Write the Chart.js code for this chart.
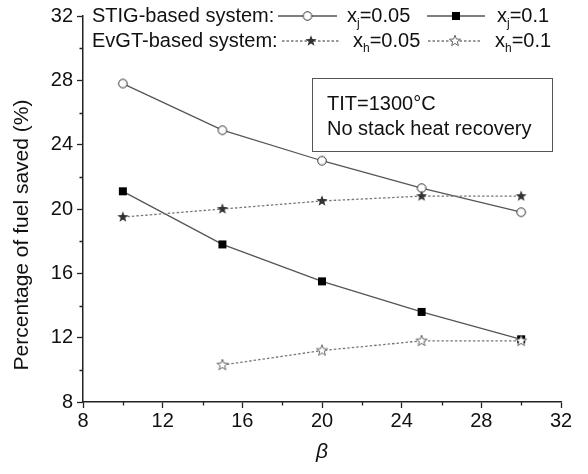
<!DOCTYPE html>
<html>
<head>
<meta charset="utf-8">
<script src="https://cdn.jsdelivr.net/npm/chart.js@4.4.1/dist/chart.umd.min.js"></script>
<style>
  html, body { margin: 0; padding: 0; background: #fff; }
  #wrap { width: 588px; height: 474px; }
</style>
</head>
<body>
<div id="wrap"><canvas id="graph" width="588" height="474"></canvas></div>
<script>
// values
const betaValues = [10, 15, 20, 25, 30];
const stigXj005 = [27.8, 24.9, 23.0, 21.3, 19.8];
const stigXj01 = [21.1, 17.8, 15.5, 13.6, 11.9];
const evgtXh005 = [19.5, 20.0, 20.5, 20.8, 20.8];
const evgtXh01 = [null, 10.3, 11.2, 11.8, 11.8];
const xTicks = [8, 12, 16, 20, 24, 28, 32];
const yTicks = [8, 12, 16, 20, 24, 28, 32];

const FAMILY = '"Liberation Sans", Arial, sans-serif';

function starPath(g, cx, cy, ro, ri) {
  g.beginPath();
  for (let i = 0; i < 10; i++) {
    const r = i % 2 ? ri : ro;
    const a = -Math.PI / 2 + i * Math.PI / 5;
    const px = cx + r * Math.cos(a), py = cy + r * Math.sin(a);
    if (i === 0) g.moveTo(px, py); else g.lineTo(px, py);
  }
  g.closePath();
}

function makeMarker(kind) {
  const c = document.createElement('canvas');
  c.width = 14; c.height = 14;
  const g = c.getContext('2d');
  if (kind === 'circle') {
    g.beginPath(); g.arc(7, 7, 4.3, 0, Math.PI * 2);
    g.fillStyle = '#fff'; g.fill();
    g.strokeStyle = '#333'; g.lineWidth = 1; g.stroke();
  } else if (kind === 'square') {
    g.fillStyle = '#000'; g.fillRect(3, 3, 8, 8);
  } else if (kind === 'star') {
    starPath(g, 7, 7, 5.8, 2.4);
    g.fillStyle = '#333'; g.fill();
  } else {
    starPath(g, 7, 7, 5.8, 2.4);
    g.fillStyle = '#fff'; g.fill();
    g.strokeStyle = '#666'; g.lineWidth = 1; g.stroke();
  }
  return c;
}

const markers = {
  circle: makeMarker('circle'),
  square: makeMarker('square'),
  star: makeMarker('star'),
  openStar: makeMarker('openStar')
};

function toPoints(ys) {
  return betaValues.map((b, i) => ({ x: b, y: ys[i] })).filter(p => p.y !== null);
}

function drawSubLabel(ctx, x, y, base, sub, rest) {
  ctx.font = '20px ' + FAMILY;
  ctx.fillText(base, x, y);
  x += ctx.measureText(base).width;
  ctx.font = '12px ' + FAMILY;
  ctx.fillText(sub, x, y + 8);
  x += ctx.measureText(sub).width;
  ctx.font = '20px ' + FAMILY;
  ctx.fillText(rest, x, y);
}

function legendSample(ctx, x1, x2, y, dash, marker) {
  ctx.save();
  ctx.strokeStyle = dash ? '#777' : '#555';
  ctx.lineWidth = 1.3;
  ctx.setLineDash(dash ? [2.5, 2] : []);
  ctx.beginPath(); ctx.moveTo(x1, y); ctx.lineTo(x2, y); ctx.stroke();
  ctx.restore();
  const mx = (x1 + x2) / 2;
  ctx.drawImage(marker, mx - 7, y - 7);
}

const decorPlugin = {
  id: 'decor',
  afterDraw(chart) {
    const ctx = chart.ctx;
    const xs = chart.scales.x, ys = chart.scales.y;
    const area = chart.chartArea;
    ctx.save();

    // minor ticks
    ctx.strokeStyle = '#222';
    ctx.lineWidth = 1.3;
    ctx.beginPath();
    for (let v = 10; v < 32; v += 4) {
      const px = Math.round(xs.getPixelForValue(v)) + 0.5;
      ctx.moveTo(px, area.bottom); ctx.lineTo(px, area.bottom + 3.5);
      const py = Math.round(ys.getPixelForValue(v)) + 0.5;
      ctx.moveTo(area.left, py); ctx.lineTo(area.left - 3.5, py);
    }
    ctx.stroke();

    // y axis title
    ctx.fillStyle = '#111';
    ctx.save();
    ctx.translate(22, 235);
    ctx.rotate(-Math.PI / 2);
    ctx.font = '21px ' + FAMILY;
    ctx.textAlign = 'center';
    ctx.textBaseline = 'middle';
    ctx.fillText('Percentage of fuel saved (%)', 0, 0);
    ctx.restore();

    // legend
    ctx.textBaseline = 'middle';
    ctx.textAlign = 'left';
    ctx.font = '20px ' + FAMILY;
    ctx.fillText('STIG-based system:', 92, 16);
    ctx.fillText('EvGT-based system:', 92, 41);
    legendSample(ctx, 278, 337, 16, false, markers.circle);
    drawSubLabel(ctx, 347, 16, 'x', 'j', '=0.05');
    legendSample(ctx, 427, 485, 16, false, markers.square);
    drawSubLabel(ctx, 497, 16, 'x', 'j', '=0.1');
    legendSample(ctx, 282, 340, 41, true, markers.star);
    drawSubLabel(ctx, 353, 41, 'x', 'h', '=0.05');
    legendSample(ctx, 428, 482, 41, true, markers.openStar);
    drawSubLabel(ctx, 495, 41, 'x', 'h', '=0.1');

    // note box
    ctx.strokeStyle = '#555';
    ctx.lineWidth = 1;
    ctx.strokeRect(312.5, 78.5, 240, 73);
    ctx.font = '20px ' + FAMILY;
    ctx.fillText('TIT=1300°C', 327, 104);
    ctx.fillText('No stack heat recovery', 327, 129);

    ctx.restore();
  }
};

const ctx = document.getElementById('graph').getContext('2d');
new Chart(ctx, {
  type: 'line',
  data: {
    datasets: [
      {
        label: 'EvGT xh=0.1',
        data: toPoints(evgtXh01),
        borderColor: '#777',
        borderWidth: 1.3,
        borderDash: [2.5, 2],
        pointStyle: markers.openStar,
        pointRadius: 6
      },
      {
        label: 'EvGT xh=0.05',
        data: toPoints(evgtXh005),
        borderColor: '#777',
        borderWidth: 1.3,
        borderDash: [2.5, 2],
        pointStyle: markers.star,
        pointRadius: 6
      },
      {
        label: 'STIG xj=0.05',
        data: toPoints(stigXj005),
        borderColor: '#555',
        borderWidth: 1.3,
        pointStyle: markers.circle,
        pointRadius: 6
      },
      {
        label: 'STIG xj=0.1',
        data: toPoints(stigXj01),
        borderColor: '#555',
        borderWidth: 1.3,
        pointStyle: markers.square,
        pointRadius: 6
      }
    ]
  },
  options: {
    responsive: false,
    animation: false,
    layout: { padding: { left: 0, right: 27, top: 15, bottom: 0 } },
    plugins: {
      legend: { display: false },
      tooltip: { enabled: false }
    },
    scales: {
      x: {
        type: 'linear',
        min: 8,
        max: 32,
        afterBuildTicks: s => { s.ticks = xTicks.map(v => ({ value: v })); },
        afterFit: s => { s.height = 72; },
        grid: { drawOnChartArea: false, drawTicks: true, tickLength: 6, color: '#222', tickWidth: 1.3 },
        border: { color: '#222', width: 1.5 },
        ticks: { color: '#111', font: { size: 20, family: FAMILY }, padding: 1, maxRotation: 0, autoSkip: false },
        title: { display: true, text: 'β', color: '#111', font: { size: 21, style: 'italic', family: FAMILY }, padding: { top: 0, bottom: 9 } }
      },
      y: {
        type: 'linear',
        min: 8,
        max: 32,
        afterBuildTicks: s => { s.ticks = yTicks.map(v => ({ value: v })); },
        afterFit: s => { s.width = 83; },
        grid: { drawOnChartArea: false, drawTicks: true, tickLength: 6, color: '#222', tickWidth: 1.3 },
        border: { color: '#222', width: 1.5 },
        ticks: { color: '#111', font: { size: 20, family: FAMILY }, padding: 4, autoSkip: false }
      }
    }
  },
  plugins: [decorPlugin]
});
</script>
</body>
</html>
